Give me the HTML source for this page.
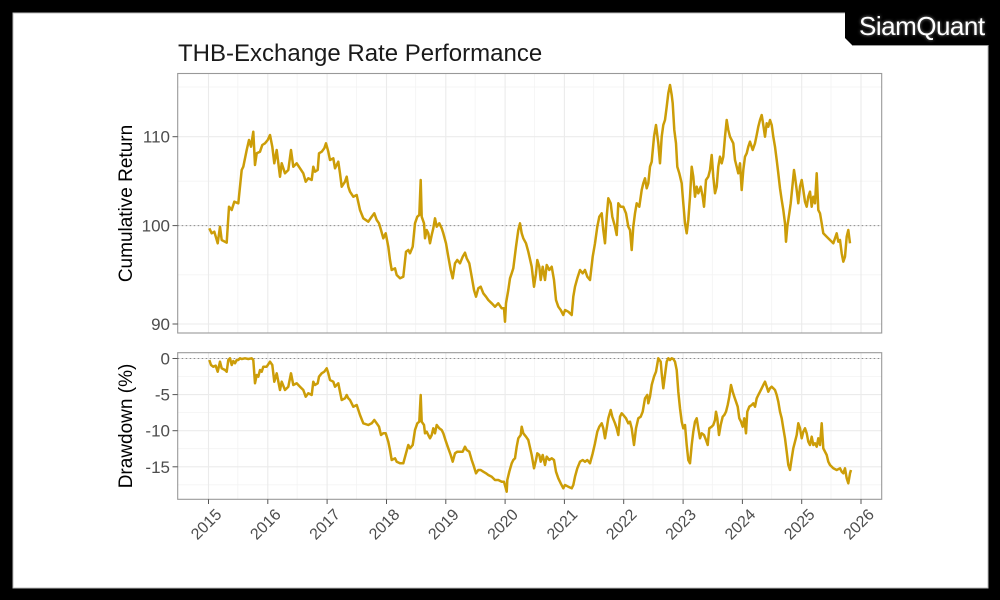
<!DOCTYPE html>
<html>
<head>
<meta charset="utf-8">
<style>
html,body{margin:0;padding:0;background:#000;}
svg{display:block;}
text{font-family:"Liberation Sans",Arial,sans-serif;}
</style>
</head>
<body>
<svg width="1000" height="600" viewBox="0 0 1000 600" xmlns="http://www.w3.org/2000/svg">
<rect x="0" y="0" width="1000" height="600" fill="#000"/>
<rect x="13" y="13" width="975" height="575" fill="#fff" stroke="#bdbdbd" stroke-width="1"/>
<!-- logo tab -->
<polygon points="845,0 1000,0 1000,45 852,45 845,38" fill="#000"/>
<line x1="852" y1="45.5" x2="988" y2="45.5" stroke="#9a9a9a" stroke-width="1"/>
<text x="859" y="35" font-size="26" fill="#fff" letter-spacing="-0.5" style="text-shadow:0 0 3px #888">SiamQuant</text>

<!-- title -->
<text x="178" y="61" font-size="24" fill="#1a1a1a">THB-Exchange Rate Performance</text>

<!-- ===== TOP PANEL ===== -->
<g>
<rect x="177.7" y="73.5" width="704" height="259.5" fill="#fff"/>
<!-- minor grid -->
<g stroke="#f3f3f3" stroke-width="0.8">
<line x1="177.7" x2="881.7" y1="87" y2="87"/>
<line x1="177.7" x2="881.7" y1="181.2" y2="181.2"/>
<line x1="177.7" x2="881.7" y1="274.8" y2="274.8"/>
<line y1="73.5" y2="333" x1="237.8" x2="237.8"/>
<line y1="73.5" y2="333" x1="297.1" x2="297.1"/>
<line y1="73.5" y2="333" x1="356.4" x2="356.4"/>
<line y1="73.5" y2="333" x1="415.7" x2="415.7"/>
<line y1="73.5" y2="333" x1="475.1" x2="475.1"/>
<line y1="73.5" y2="333" x1="534.4" x2="534.4"/>
<line y1="73.5" y2="333" x1="593.7" x2="593.7"/>
<line y1="73.5" y2="333" x1="653.0" x2="653.0"/>
<line y1="73.5" y2="333" x1="712.3" x2="712.3"/>
<line y1="73.5" y2="333" x1="771.7" x2="771.7"/>
<line y1="73.5" y2="333" x1="831.0" x2="831.0"/>
</g>
<!-- major grid -->
<g stroke="#ebebeb" stroke-width="1.1">
<line x1="177.7" x2="881.7" y1="136.7" y2="136.7"/>
<line x1="177.7" x2="881.7" y1="225.6" y2="225.6"/>
<line x1="177.7" x2="881.7" y1="324" y2="324"/>
<line y1="73.5" y2="333" x1="208.5" x2="208.5"/>
<line y1="73.5" y2="333" x1="267.8" x2="267.8"/>
<line y1="73.5" y2="333" x1="327.1" x2="327.1"/>
<line y1="73.5" y2="333" x1="386.5" x2="386.5"/>
<line y1="73.5" y2="333" x1="445.8" x2="445.8"/>
<line y1="73.5" y2="333" x1="505.1" x2="505.1"/>
<line y1="73.5" y2="333" x1="564.4" x2="564.4"/>
<line y1="73.5" y2="333" x1="623.7" x2="623.7"/>
<line y1="73.5" y2="333" x1="683.1" x2="683.1"/>
<line y1="73.5" y2="333" x1="742.4" x2="742.4"/>
<line y1="73.5" y2="333" x1="801.7" x2="801.7"/>
<line y1="73.5" y2="333" x1="861.0" x2="861.0"/>
</g>
<line x1="177.7" x2="881.7" y1="225.6" y2="225.6" stroke="#8c8c8c" stroke-width="1" stroke-dasharray="1.5,2.5"/>
<polyline fill="none" stroke="#CC9D08" stroke-width="2.5" stroke-linejoin="round" points="
209.3,228.3 211.7,233.3 214.3,231.7 217.7,243.3 220,226.7 221.7,240 226.7,242.7 229,206.7 231.7,210 234.3,201.7 238.3,203.3 241.7,170 243.3,166.7 246.7,150 249,140 251,146.7 253.3,131.7 255,165 256.7,153.3 260,151.7 262.3,145 265,143.3 267.7,140 270,135 272.3,146.7 274.3,163.3 276.7,150 280,176.7 281.7,163.3 285,173.3 288.3,170 291,150 293.3,166.7 296.7,163.3 300,168.3 303.3,173.3 305.7,181.7 308.3,178.3 311.7,180 313.3,166.7 315,171.7 317.7,170 319,153.3 321.7,151.7 324.3,148.3 326,143.3 328.3,151.7 330,160 333.3,158.3 335,168.3 338.3,161.7 340,173.3 341.7,186.7 345,181.7 346.7,176.7 348.3,186.7 350,191.7 353.3,196.7 356.7,195 360,210 363.3,218.3 368.3,221.7 371.7,216.7 374.3,213.3 376.7,220 379,223.3 381,230 383.3,238.3 385.7,233.3 388.3,246.7 390,260 391.7,270 395,268.3 396.7,275 400,278.3 403.3,276.7 406,251.7 408.3,250 410,253.3 412.7,246.7 415,223.3
417.3,216.7 419.3,215 420.7,180 421.7,216.7 424,223.3 425,238.3 426.7,230 428.3,233.3 430,243.3 431.7,235 433.3,228.3 435,218.3 436.7,226.7 439.3,223.3 441.7,228.3 443.3,233.3 446,243.3 448.3,256.7 450.7,270 452.7,278.3 455,263.3 457.3,260 460,263.3 462.7,256.7 465,252.7 466.7,258.3 469.3,263.3 471.7,276.7 474,290 476,296.7 478.3,288.3 480.7,286.7 483.3,293.3 486,296.7 488.3,300 491.7,303.3 495,306.7 498.3,303.3 501.7,308.3 504,308.3 505,321.7 506,303.3 508.3,290 510,278.3 511.7,273.3 513.3,268.3 516,246.7 518.3,230 520,223.3 521.7,233.3 523.3,238.3 526,243.3 528.3,251.7 531.7,266.7 534,286.7 536,273.3 537.3,260 539.3,266.7 540.7,280 542.7,266.7 545,280 546.7,265 549.3,270 551.7,266.7 554,280 556,300 558.3,306.7 560.7,310 563.3,315 565,310 568.3,311.7 571.7,315 573.3,296.7 575,286.7 577.3,278.3 580,270 582.7,273.3 585,270 587.3,276.7 590,280 592.7,256.7 595,243.3 597.3,226.7 599.3,216.7 601.7,213.3 603.3,230 605,243.3 606.7,216.7 608.3,198.3 610.7,203.3 612.3,216.7 615,226.7 616.7,235 618.3,203.3 620.7,206.7 623.3,206.7 626,213.3 628.3,226.7
630,230 631.7,250 633.3,226.7 635,213.3 636.7,203.3 639.3,206.7 641.7,190 643.3,183.3 645,178.3 646.7,188.3 648.3,183.3 650,166.7 651.7,161.7 654,136.7 656,125 658.3,143.3 660,163.3 661.7,136.7 663.3,125 665,120 666.7,106.7 668.3,93.3 670,85 671.7,95 672.7,103.3 674.3,130 676,143.3 677.3,166.7 679.3,173.3 681.7,183.3 683.3,203.3 685,223.3 686.7,233.3 688.3,220 690,196.7 691.7,166.7 693.3,176.7 695,196.7 696.7,186.7 698.3,193.3 700.7,186.7 702.7,196.7 704,206.7 706,180 708.3,176.7 710,170 711.7,155 713.3,176.7 715,193.3 716.7,186.7 718.3,166.7 720,156.7 721.7,163.3 723.3,156.7 725,136.7 726.7,120 728.3,130 730,136.7 733.3,143.3 735,160 736.7,166.7 738.3,173.3 740,163.3 741.7,190 743.3,170 745,156.7 746.7,153.3 748.3,146.7 750,141.7 752.7,150 755,143.3 756.7,135 758.3,126.7 760,120 761.7,115 763.3,125 765,136.7 766.7,123.3 768.3,126.7 770,120 771.7,125 773.3,136.7 775,146.7 776.7,160 778.3,173.3 780,188.3 781.7,200 783.3,210 785,223.3 786,241.7 787.3,226.7 789.3,213.3 790.7,203.3 792.7,183.3 794,170 795,176.7 796.7,190 798.3,203.3 800,186.7 801.7,180 803.3,190 805,201.7 806.7,206.7 808.3,196.7 810,191.7 811.7,206.7 813.3,196.7 815,203.3 816.7,173.3 818.3,210 820,213.3 821.7,223.3 823.3,233.3 826.7,236.7 830,240 833.3,243.3 836.7,233.3 838.3,241.7 840,240 841.7,253.3 843.3,261.7 845,256.7 846.7,236.7 848.3,230 850,243.3"/>
<rect x="177.7" y="73.5" width="704" height="259.5" fill="none" stroke="#999" stroke-width="1.1"/>
<!-- y ticks -->
<g stroke="#555" stroke-width="1">
<line x1="172.5" x2="177.7" y1="136.7" y2="136.7"/>
<line x1="172.5" x2="177.7" y1="225.6" y2="225.6"/>
<line x1="172.5" x2="177.7" y1="324" y2="324"/>
</g>
<g font-size="17" fill="#4d4d4d" text-anchor="end">
<text x="170" y="142.7">110</text>
<text x="170" y="231.6">100</text>
<text x="170" y="330">90</text>
</g>
<text transform="translate(132,203.5) rotate(-90)" font-size="19" fill="#000" text-anchor="middle">Cumulative Return</text>
</g>

<!-- ===== BOTTOM PANEL ===== -->
<g>
<g stroke="#f3f3f3" stroke-width="0.8">
<line x1="177.7" x2="881.7" y1="376.5" y2="376.5"/>
<line x1="177.7" x2="881.7" y1="412.6" y2="412.6"/>
<line x1="177.7" x2="881.7" y1="448.7" y2="448.7"/>
<line x1="177.7" x2="881.7" y1="484.8" y2="484.8"/>
<line y1="352.7" y2="499.3" x1="237.8" x2="237.8"/>
<line y1="352.7" y2="499.3" x1="297.1" x2="297.1"/>
<line y1="352.7" y2="499.3" x1="356.4" x2="356.4"/>
<line y1="352.7" y2="499.3" x1="415.7" x2="415.7"/>
<line y1="352.7" y2="499.3" x1="475.1" x2="475.1"/>
<line y1="352.7" y2="499.3" x1="534.4" x2="534.4"/>
<line y1="352.7" y2="499.3" x1="593.7" x2="593.7"/>
<line y1="352.7" y2="499.3" x1="653.0" x2="653.0"/>
<line y1="352.7" y2="499.3" x1="712.3" x2="712.3"/>
<line y1="352.7" y2="499.3" x1="771.7" x2="771.7"/>
<line y1="352.7" y2="499.3" x1="831.0" x2="831.0"/>
</g>
<g stroke="#ebebeb" stroke-width="1.1">
<line x1="177.7" x2="881.7" y1="358.5" y2="358.5"/>
<line x1="177.7" x2="881.7" y1="394.6" y2="394.6"/>
<line x1="177.7" x2="881.7" y1="430.7" y2="430.7"/>
<line x1="177.7" x2="881.7" y1="466.8" y2="466.8"/>
<line y1="352.7" y2="499.3" x1="208.5" x2="208.5"/>
<line y1="352.7" y2="499.3" x1="267.8" x2="267.8"/>
<line y1="352.7" y2="499.3" x1="327.1" x2="327.1"/>
<line y1="352.7" y2="499.3" x1="386.5" x2="386.5"/>
<line y1="352.7" y2="499.3" x1="445.8" x2="445.8"/>
<line y1="352.7" y2="499.3" x1="505.1" x2="505.1"/>
<line y1="352.7" y2="499.3" x1="564.4" x2="564.4"/>
<line y1="352.7" y2="499.3" x1="623.7" x2="623.7"/>
<line y1="352.7" y2="499.3" x1="683.1" x2="683.1"/>
<line y1="352.7" y2="499.3" x1="742.4" x2="742.4"/>
<line y1="352.7" y2="499.3" x1="801.7" x2="801.7"/>
<line y1="352.7" y2="499.3" x1="861.0" x2="861.0"/>
</g>
<line x1="177.7" x2="881.7" y1="358.5" y2="358.5" stroke="#8c8c8c" stroke-width="1" stroke-dasharray="1.5,2.5"/>
<polyline fill="none" stroke="#CC9D08" stroke-width="2.5" stroke-linejoin="round" points="
209.3,360 211,365 213.3,366.7 215.7,365.7 217.7,371.7 220,361.7 221.7,368.3 225,370 226.7,371.7 228.3,360 230,358.3 231.7,365 233.3,361 235,363.3 236.7,360 238.3,360 240,358.3 241.7,359 245,358.3 248.3,359 251.7,358.3 253.3,360 255,383.3 256.7,375 258.3,376.7 260,370 261.7,371.7 263.3,366.7 266.7,366.7 270,361.7 272.3,365 274.3,381.7 276.7,373.3 280,390 281.7,381.7 285,390 288.3,386.7 291,373.3 293.3,385 296.7,383.3 300,386.7 303.3,390 305.7,396.7 308.3,393.3 311.7,395 313.3,381.7 315,385 317.7,383.3 319,376.7 321.7,373.3 324.3,371.7 326.7,368.3 328.3,373.3 330,380 333.3,381.7 335,386.7 338.3,383.3 340,391.7 341.7,400 345,398.3 346.7,395 348.3,398.3 350,400 353.3,406.7 356.7,405 360,415 363.3,423.3 368.3,425 371.7,423.3 374.3,420 376.7,423.3 379,426.7 381,435 383.3,433.3 385.7,433.3 388.3,441.7 390,450 391.7,460 395,458.3 396.7,461.7 400,463.3 403.3,463.3 406,453.3 408.3,445 410,448.3 412.7,445 415,430
417.3,423.3 419.3,421.7 420.7,395 421.7,421.7 424,425 425,433.3 426.7,431.7 428.3,435 430,438.3 431.7,435 433.3,428.3 435,433.3 436.7,425 439.3,428.3 441.7,430 443.3,433.3 446,441.7 448.3,448.3 450.7,455 452.7,461.7 455,453.3 457.3,451.7 460,451.7 462.7,451.7 465,446.7 466.7,450 469.3,451.7 471.7,460 474,466.7 476,473.3 478.3,470 480.7,470 483.3,471.7 486,473.3 488.3,475 491.7,476.7 495,480 498.3,480 501.7,481.7 504,481.7 506.7,491.7 507.3,480 509.3,471.7 511.7,463.3 513.3,460 515,458.3 516.7,446.7 518.3,438.3 520.7,435 521.7,426.7 523.3,433.3 526,436.7 528.3,440 531.7,455 534,468.3 536,460 537.3,453.3 539.3,455 540.7,461.7 542.7,455 545,465 546.7,456.7 549.3,460 551.7,458.3 554,460 556,471.7 558.3,478.3 560.7,483.3 563.3,488.3 565,485 568.3,486.7 571.7,488.3 573.3,485 575,476.7 577.3,468.3 580,461.7 582.7,460 585,461.7 587.3,460 590,463.3 592.7,453.3 595,443.3 597.3,431.7 599.3,426.7 601.7,423.3 603.3,428.3 605,438.3 606.7,428.3 608.3,418.3 610.7,410 612.3,416.7 615,423.3 616.7,428.3 618.3,435 620,416.7 621.7,413.3 623.3,415 626,418.3 628.3,423.3
630,421.7 631.7,428.3 634,445 636,428.3 638.3,418.3 640.7,416.7 642.7,411.7 645,398.3 647.3,395 648.3,403.3 650,396.7 651.7,385 654,376.7 656,371.7 658.3,358.3 660.7,361.7 661.7,373.3 663.3,388.3 665,375 666.7,361.7 668.3,358.3 670,360 671.7,358.3 673.3,359 675,361.7 676.7,370 678.3,391.7 680,408.3 681.7,421.7 683.3,428.3 685,425 686.7,445 688.3,460 690,463.3 691.7,445 693.3,431.7 695,421.7 696.7,418.3 698.3,428.3 700,438.3 701.7,433.3 704,435 706,440 707.7,445 709.3,428.3 711.7,426.7 713.3,425 715,420 716,411.7 717.3,418.3 719,435 720.7,425 722.7,416.7 724.3,415 726,411.7 727.7,405 729.3,396.7 731,385 732.7,391.7 734.3,396.7 736,401.7 737.7,406.7 739.3,418.3 741,421.7 742.7,426.7 744.3,418.3 746,433.3 747.3,411.7 749.3,406.7 751.7,405 753.3,403.3 755,406.7 756.7,398.3 758.3,395 760,391.7 761.7,388.3 763.3,385 765,381.7 766.7,386.7 768.3,391.7 770,388.3 771.7,386.7 773.3,388.3 775,390 776.7,395 778.3,401.7 780,411.7 781.7,418.3 783.3,428.3 785,438.3 786.7,451.7 788.3,465 790,470 791.7,458.3 793.3,448.3 795,441.7 796.7,435 798.3,423.3 800,428.3 801.7,438.3 803.3,431.7 805,428.3 806.7,433.3 808.3,441.7 810,445 811.7,436.7 813.3,445 815,443.3 816.7,446.7 818.3,438.3 820,445 821.7,423.3 823.3,448.3 825,451.7 826.7,455 828.3,461.7 830,465 833.3,468.3 836.7,470 840,468.3 841.7,471.7 843.3,473.3 845,468.3 846.7,478.3 848.3,483.3 850,473.3 851,470"/>
<rect x="177.7" y="352.7" width="704" height="146.6" fill="none" stroke="#999" stroke-width="1.1"/>
<g stroke="#555" stroke-width="1">
<line x1="172.5" x2="177.7" y1="358.5" y2="358.5"/>
<line x1="172.5" x2="177.7" y1="394.6" y2="394.6"/>
<line x1="172.5" x2="177.7" y1="430.7" y2="430.7"/>
<line x1="172.5" x2="177.7" y1="466.8" y2="466.8"/>
</g>
<g font-size="17" fill="#4d4d4d" text-anchor="end">
<text x="170" y="364.5">0</text>
<text x="170" y="400.6">-5</text>
<text x="170" y="436.7">-10</text>
<text x="170" y="472.8">-15</text>
</g>
<text transform="translate(132,426) rotate(-90)" font-size="19" fill="#000" text-anchor="middle">Drawdown (%)</text>
<!-- x ticks -->
<g stroke="#555" stroke-width="1">
<line y1="499.3" y2="504" x1="208.5" x2="208.5"/>
<line y1="499.3" y2="504" x1="267.8" x2="267.8"/>
<line y1="499.3" y2="504" x1="327.1" x2="327.1"/>
<line y1="499.3" y2="504" x1="386.5" x2="386.5"/>
<line y1="499.3" y2="504" x1="445.8" x2="445.8"/>
<line y1="499.3" y2="504" x1="505.1" x2="505.1"/>
<line y1="499.3" y2="504" x1="564.4" x2="564.4"/>
<line y1="499.3" y2="504" x1="623.7" x2="623.7"/>
<line y1="499.3" y2="504" x1="683.1" x2="683.1"/>
<line y1="499.3" y2="504" x1="742.4" x2="742.4"/>
<line y1="499.3" y2="504" x1="801.7" x2="801.7"/>
<line y1="499.3" y2="504" x1="861.0" x2="861.0"/>
</g>
<g font-size="16" fill="#4d4d4d" text-anchor="end">
<text transform="translate(222.5,515.5) rotate(-45)">2015</text>
<text transform="translate(281.8,515.5) rotate(-45)">2016</text>
<text transform="translate(341.1,515.5) rotate(-45)">2017</text>
<text transform="translate(400.5,515.5) rotate(-45)">2018</text>
<text transform="translate(459.8,515.5) rotate(-45)">2019</text>
<text transform="translate(519.1,515.5) rotate(-45)">2020</text>
<text transform="translate(578.4,515.5) rotate(-45)">2021</text>
<text transform="translate(637.7,515.5) rotate(-45)">2022</text>
<text transform="translate(697.1,515.5) rotate(-45)">2023</text>
<text transform="translate(756.4,515.5) rotate(-45)">2024</text>
<text transform="translate(815.7,515.5) rotate(-45)">2025</text>
<text transform="translate(875.0,515.5) rotate(-45)">2026</text>
</g>
</g>
</svg>
</body>
</html>
